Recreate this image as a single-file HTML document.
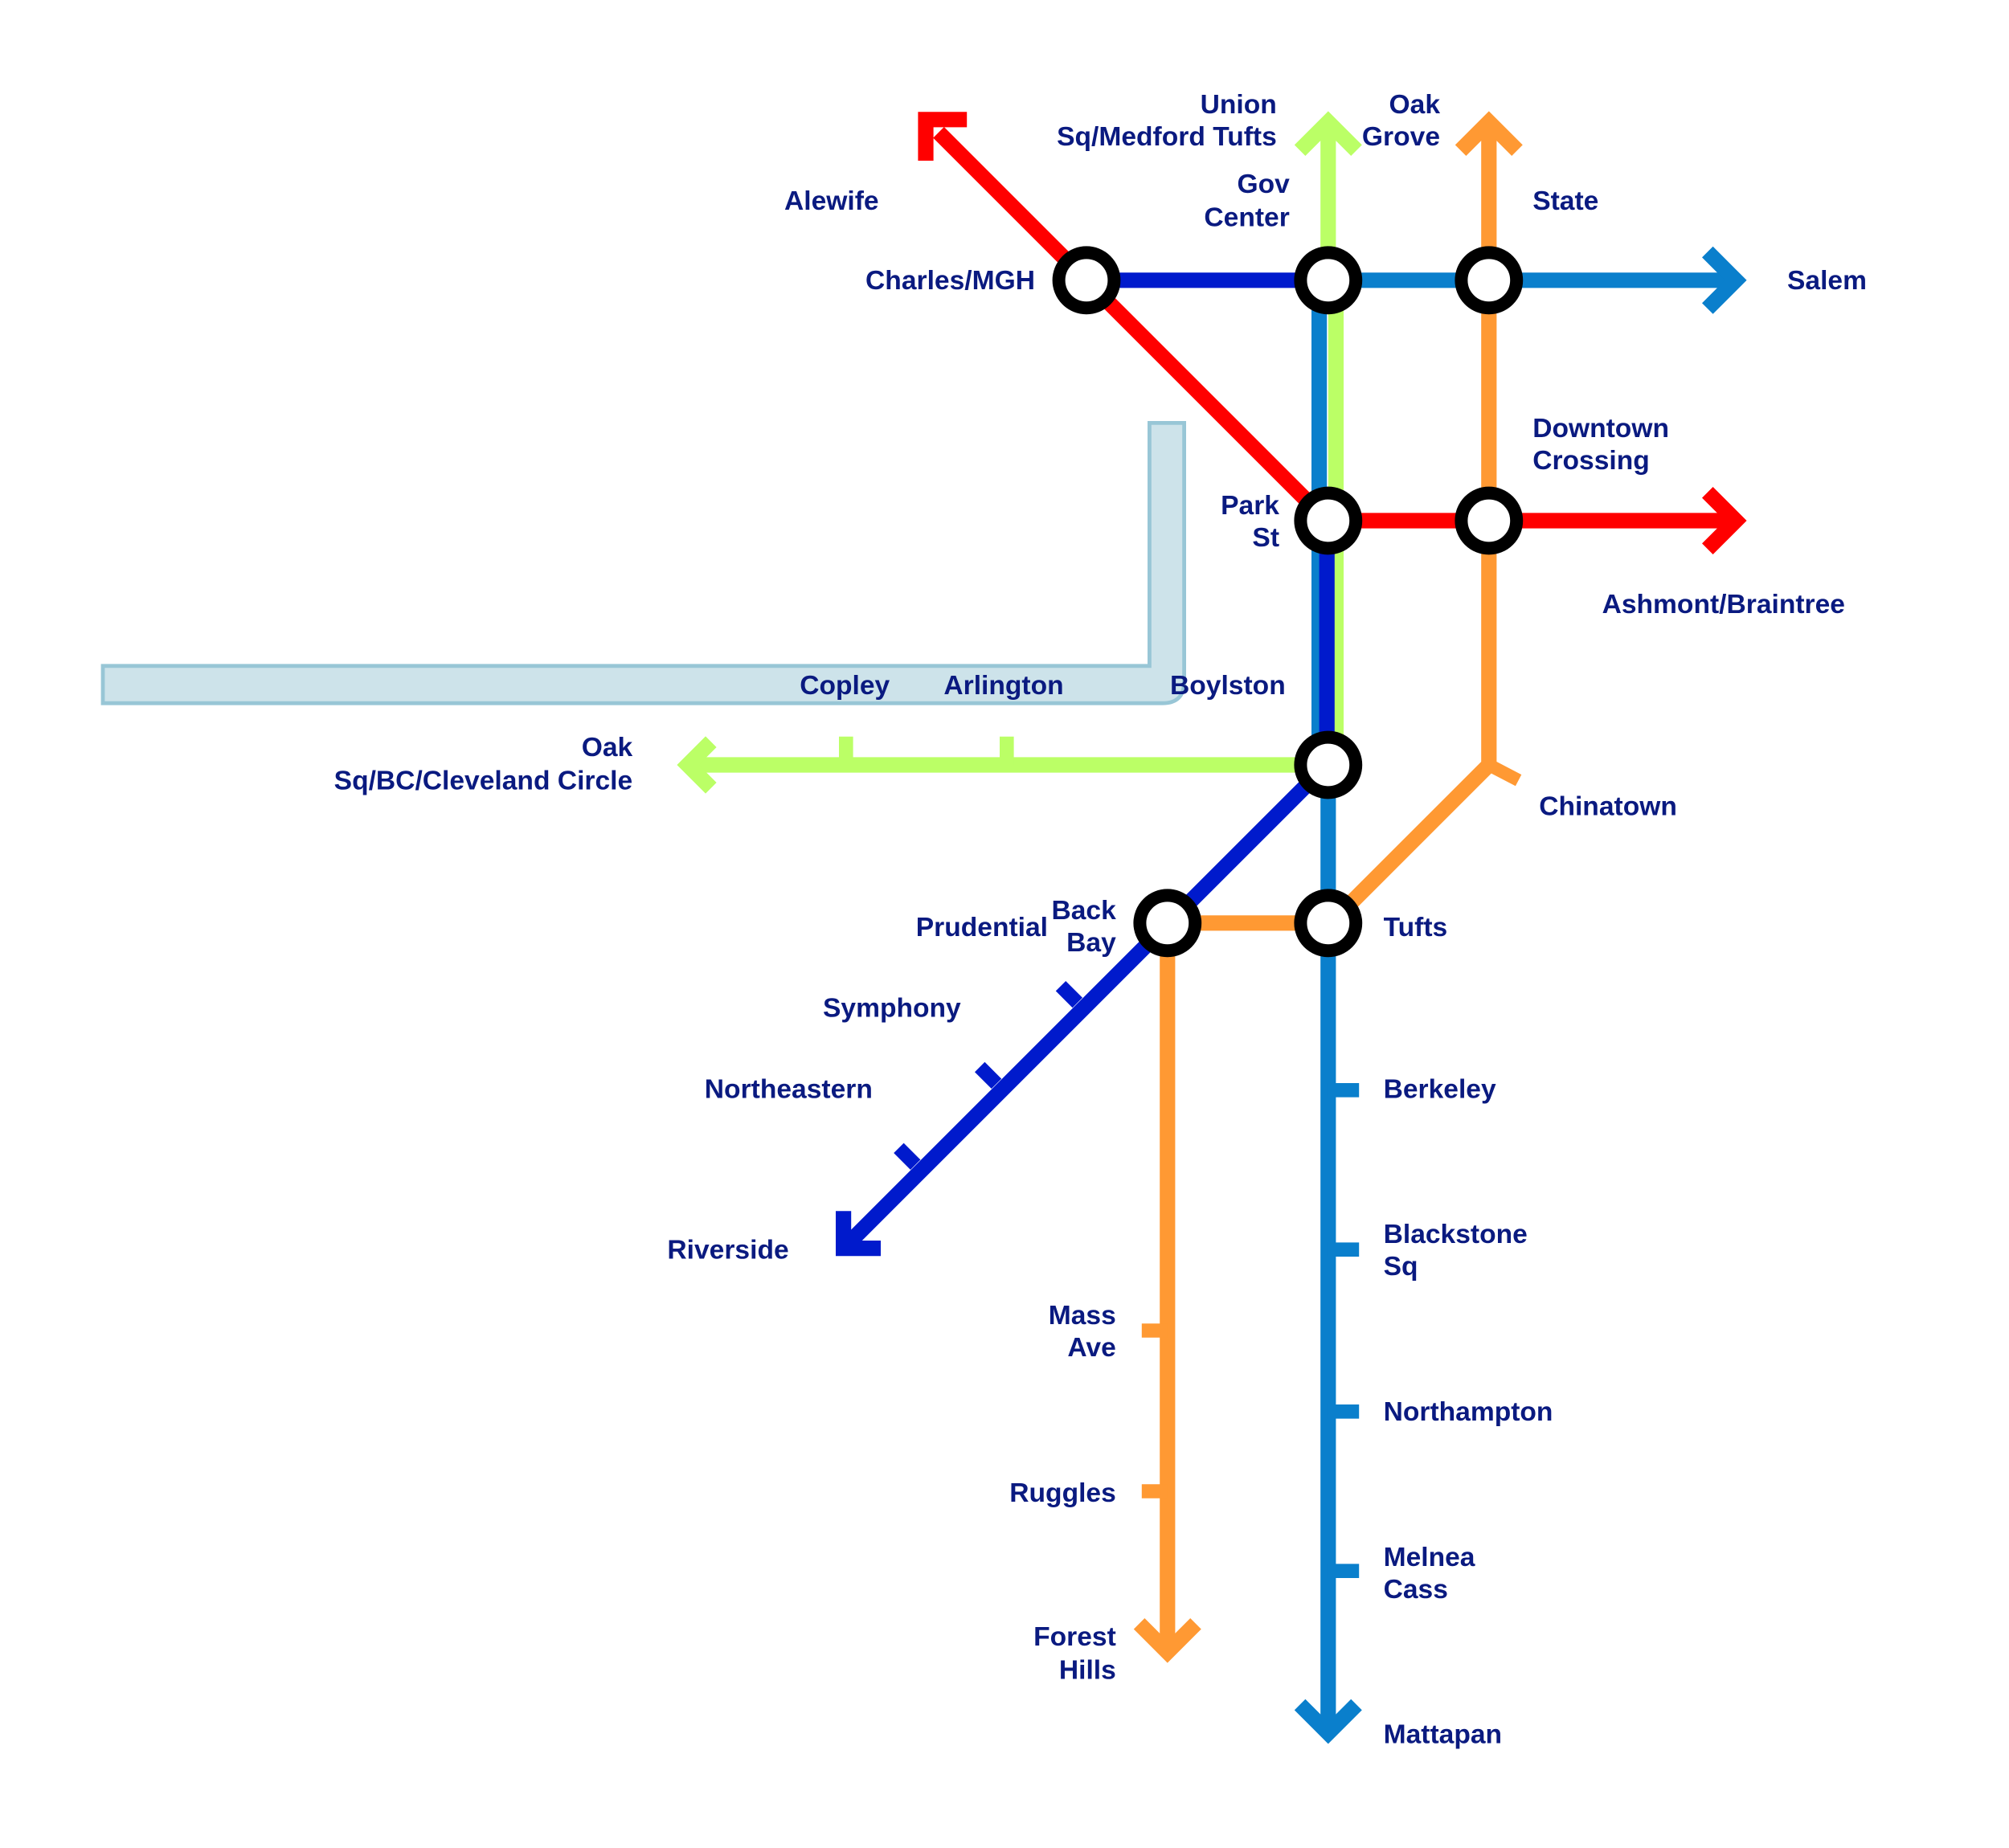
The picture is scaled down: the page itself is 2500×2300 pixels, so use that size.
<!DOCTYPE html>
<html><head><meta charset="utf-8"><style>
html,body{margin:0;padding:0;background:#fff}
svg{display:block}
text{font-family:"Liberation Sans",sans-serif;font-weight:bold;font-size:21px;fill:#0a1a80}
.e{text-anchor:end}
</style></head><body>
<svg width="2500" height="2300" viewBox="0 0 1562.5 1437.5" xmlns="http://www.w3.org/2000/svg">
<rect width="1562.5" height="1437.5" fill="#fff"/>
<path d="M80,518 L894,518 L894,329 L921,329 L921,530 Q921,547 904,547 L80,547 Z" fill="#cde3ea" stroke="#98c6d6" stroke-width="3"/>
<g fill="none" stroke-width="12" stroke-linecap="butt" stroke-linejoin="miter">
<path d="M730,103 L845,218 L1030,403" stroke="#ff0000"/>
<path d="M720,125 L720,93 L752,93" stroke="#ff0000"/>
<path d="M1033,405 L1350,405" stroke="#ff0000"/>
<path d="M1328,383 L1350,405 L1328,427" stroke="#ff0000"/>
<path d="M1033,95 L1033,218" stroke="#bbff66"/>
<path d="M1011,117 L1033,95 L1055,117" stroke="#bbff66"/>
<path d="M1039,218 L1039,595" stroke="#bbff66"/>
<path d="M1033,595 L535,595" stroke="#bbff66"/>
<path d="M553,577 L535,595 L553,613" stroke="#bbff66"/>
<path d="M658,595 L658,573 M783,595 L783,573" stroke="#bbff66" stroke-width="11"/>
<path d="M1033,218 L1350,218" stroke="#0a7fcc"/>
<path d="M1328,196 L1350,218 L1328,240" stroke="#0a7fcc"/>
<path d="M1026,218 L1026,595" stroke="#0a7fcc"/>
<path d="M1033,595 L1033,1348" stroke="#0a7fcc"/>
<path d="M1011,1326 L1033,1348 L1055,1326" stroke="#0a7fcc"/>
<path d="M1033,848 L1057,848 M1033,972 L1057,972 M1033,1098 L1057,1098 M1033,1222 L1057,1222" stroke="#0a7fcc" stroke-width="11"/>
<path d="M845,218 L1033,218" stroke="#001acc"/>
<path d="M1032,405 L1032,595 L660,967" stroke="#001acc"/>
<path d="M656,942 L656,971 L685,971" stroke="#001acc"/>
<path d="M838,780 L825,767 M775,843 L762,830 M712,906 L699,893" stroke="#001acc" stroke-width="11"/>
<path d="M1158,95 L1158,595 L1045,708" stroke="#ff9933"/>
<path d="M1136,117 L1158,95 L1180,117" stroke="#ff9933"/>
<path d="M1158,595 L1181,607" stroke="#ff9933" stroke-width="10"/>
<path d="M908,718 L1033,718" stroke="#ff9933"/>
<path d="M908,718 L908,1285" stroke="#ff9933"/>
<path d="M886,1263 L908,1285 L930,1263" stroke="#ff9933"/>
<path d="M908,1035 L888,1035 M908,1160 L888,1160" stroke="#ff9933" stroke-width="11"/>
</g>
<g fill="#fff" stroke="#000" stroke-width="10">
<circle cx="845" cy="218" r="21.5"/>
<circle cx="1033" cy="218" r="21.5"/>
<circle cx="1158" cy="218" r="21.5"/>
<circle cx="1033" cy="405" r="21.5"/>
<circle cx="1158" cy="405" r="21.5"/>
<circle cx="1033" cy="595" r="21.5"/>
<circle cx="908" cy="718" r="21.5"/>
<circle cx="1033" cy="718" r="21.5"/>
</g>
<text x="610" y="163">Alewife</text>
<text class="e" x="993" y="88">Union</text>
<text class="e" x="993" y="113">Sq/Medford Tufts</text>
<text class="e" x="1120" y="88">Oak</text>
<text class="e" x="1120" y="113">Grove</text>
<text class="e" x="1003" y="150">Gov</text>
<text class="e" x="1003" y="176">Center</text>
<text x="1192" y="163">State</text>
<text class="e" x="805" y="225">Charles/MGH</text>
<text x="1390" y="225">Salem</text>
<text x="1192" y="340">Downtown</text>
<text x="1192" y="365">Crossing</text>
<text class="e" x="995" y="400">Park</text>
<text class="e" x="995" y="425">St</text>
<text x="1246" y="477">Ashmont/Braintree</text>
<text x="622" y="540">Copley</text>
<text x="734" y="540">Arlington</text>
<text x="910" y="540">Boylston</text>
<text class="e" x="492" y="588">Oak</text>
<text class="e" x="492" y="614">Sq/BC/Cleveland Circle</text>
<text x="1197" y="634">Chinatown</text>
<text class="e" x="815" y="728">Prudential</text>
<text class="e" x="868" y="715">Back</text>
<text class="e" x="868" y="740">Bay</text>
<text x="1076" y="728">Tufts</text>
<text x="640" y="791">Symphony</text>
<text x="548" y="854">Northeastern</text>
<text x="519" y="979">Riverside</text>
<text x="1076" y="854">Berkeley</text>
<text x="1076" y="967">Blackstone</text>
<text x="1076" y="992">Sq</text>
<text x="1076" y="1105">Northampton</text>
<text x="1076" y="1218">Melnea</text>
<text x="1076" y="1243">Cass</text>
<text x="1076" y="1356">Mattapan</text>
<text class="e" x="868" y="1030">Mass</text>
<text class="e" x="868" y="1055">Ave</text>
<text class="e" x="868" y="1168">Ruggles</text>
<text class="e" x="868" y="1280">Forest</text>
<text class="e" x="868" y="1306">Hills</text>
</svg>
</body></html>
